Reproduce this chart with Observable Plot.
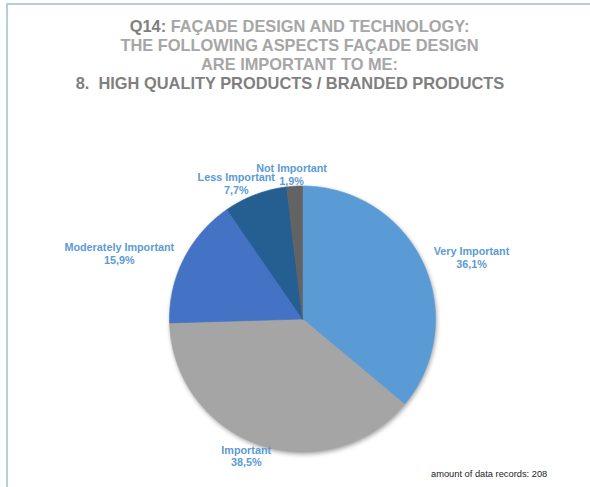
<!DOCTYPE html>
<html><head><meta charset="utf-8">
<script src="https://cdn.jsdelivr.net/npm/d3@7"></script>
<script src="https://cdn.jsdelivr.net/npm/@observablehq/plot@0.6"></script>
<style>
body{margin:0;background:#fff;font-family:"Liberation Sans",Arial,sans-serif;}
#wrap{position:relative;width:590px;height:487px;overflow:hidden;background:#fff;}
#frame{position:absolute;left:6px;top:3px;width:620px;height:490px;border-left:2px solid #b6cdda;border-top:2px solid #b6cdda;}
#chart{position:absolute;left:0;top:0;}
#title{position:absolute;left:0;top:16.5px;width:599px;text-align:center;font-weight:bold;color:#a6a6a6;font-size:16.4px;line-height:19px;white-space:nowrap;}
#title .dk{color:#7f7f7f;}
#title .l4{color:#7f7f7f;padding-right:19px;}
#caption{position:absolute;left:431px;top:469px;font-size:9.3px;color:#222;white-space:nowrap;}
svg g[aria-label="line"]{filter:drop-shadow(1px 2px 2px rgba(0,0,0,0.35));}
</style>
</head><body>
<div id="wrap">
  <div id="frame"></div>
  <div id="chart"></div>
  <div id="title">
    <div><span class="dk">Q14:</span> FAÇADE DESIGN AND TECHNOLOGY:</div>
    <div>THE FOLLOWING ASPECTS FAÇADE DESIGN</div>
    <div>ARE IMPORTANT TO ME:</div>
    <div class="l4">8.&nbsp; HIGH QUALITY PRODUCTS / BRANDED PRODUCTS</div>
  </div>
  <div id="caption">amount of data records: 208</div>
</div>
<script>
const categories = ["Very Important", "Important", "Moderately Important", "Less Important", "Not Important"];
const shares = [36.1, 38.5, 15.9, 7.7, 1.9];
const palette = ["#5b9bd5", "#a5a5a5", "#4472c4", "#255e91", "#636363"];

const W = 590, H = 487, CX = 302, CY = 318.5, R = 133;
const LABEL_SIZE = 10.8, LINE_H = 12.5;
const total = d3.sum(shares);

// slice polygons in unit coordinates (angle measured clockwise from 12 o'clock)
const pts = [];
const labels = [];
const ctx = document.createElement("canvas").getContext("2d");
ctx.font = `bold ${LABEL_SIZE}px "Liberation Sans", Arial`;
let acc = 0;
categories.forEach((c, i) => {
  const a0 = acc / total * 2 * Math.PI;
  acc += shares[i];
  const a1 = acc / total * 2 * Math.PI;
  pts.push({cat: c, x: 0, y: 0});
  const n = Math.max(2, Math.ceil((a1 - a0) / (Math.PI / 360)));
  for (let k = 0; k <= n; k++) {
    const a = a0 + (a1 - a0) * k / n;
    pts.push({cat: c, x: Math.sin(a), y: Math.cos(a)});
  }
  pts.push({cat: c, x: 0, y: 0});
  const pct = shares[i].toFixed(1).replace(".", ",") + "%";
  const mid = (a0 + a1) / 2;
  const dx = Math.sin(mid), dy = Math.cos(mid);
  const w = Math.max(ctx.measureText(c).width, ctx.measureText(pct).width);
  const rr = R + 12;
  labels.push({
    text: c + "\n" + pct,
    x: (dx * rr + dx * w * 0.55) / R,
    y: (dy * rr) / R
  });
});

const plot = Plot.plot({
  width: W, height: H,
  margin: 0,
  x: {domain: [-CX / R, (W - CX) / R], axis: null},
  y: {domain: [-(H - CY) / R, CY / R], axis: null},
  color: {domain: categories, range: palette},
  marks: [
    Plot.line(pts, {x: "x", y: "y", z: "cat", fill: "cat", stroke: "cat", strokeWidth: 0.6, curve: "linear"}),
    Plot.text(labels, {x: "x", y: "y", text: "text", fill: "#5b9bd5", fontWeight: "bold",
      fontSize: LABEL_SIZE, lineHeight: LINE_H / LABEL_SIZE, fontFamily: "Liberation Sans, Arial, sans-serif",
      textAnchor: "middle", lineAnchor: "middle"})
  ]
});
plot.style.background = "transparent";
document.getElementById("chart").appendChild(plot);
</script>
</body></html>
